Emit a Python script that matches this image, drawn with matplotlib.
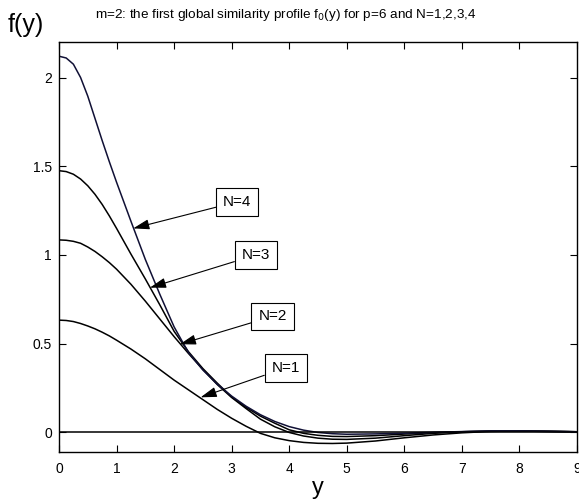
import matplotlib
matplotlib.use("Agg")
import matplotlib.pyplot as plt
from matplotlib.ticker import FormatStrFormatter

plt.rcParams['font.family'] = ['Liberation Sans', 'DejaVu Sans']

# sample positions of the similarity variable y (finer near the maxima)
y_pts = [0, 0.125, 0.25, 0.375, 0.5, 0.625, 0.75, 0.875, 1.0, 1.25, 1.5, 1.75,
         2.0, 2.25, 2.5, 2.75, 3.0, 3.25, 3.5, 3.75, 4.0, 4.25, 4.5, 4.75,
         5.0, 5.5, 6.0, 6.5, 7.0, 7.5, 8.0, 8.5, 9.0]

# profile values f_0(y) for each N
f_n1 = [0.633, 0.631, 0.625, 0.614, 0.600, 0.584, 0.565, 0.544, 0.520, 0.470,
        0.415, 0.355, 0.295, 0.240, 0.185, 0.130, 0.080, 0.035, -0.005,
        -0.030, -0.046, -0.056, -0.061, -0.062, -0.060, -0.048, -0.030,
        -0.014, -0.002, 0.006, 0.009, 0.007, 0.004]
f_n2 = [1.085, 1.083, 1.077, 1.066, 1.045, 1.020, 0.990, 0.957, 0.920, 0.835,
        0.740, 0.640, 0.540, 0.445, 0.355, 0.270, 0.197, 0.135, 0.075, 0.032,
        0.000, -0.020, -0.032, -0.038, -0.039, -0.032, -0.018, -0.005, 0.004,
        0.008, 0.008, 0.006, 0.004]
f_n3 = [1.475, 1.470, 1.455, 1.428, 1.390, 1.342, 1.285, 1.220, 1.150, 1.005,
        0.865, 0.720, 0.570, 0.455, 0.360, 0.278, 0.200, 0.142, 0.092, 0.052,
        0.015, -0.005, -0.016, -0.022, -0.023, -0.018, -0.009, -0.001, 0.004,
        0.008, 0.008, 0.006, 0.004]
f_n4 = [2.120, 2.110, 2.075, 2.000, 1.895, 1.770, 1.645, 1.525, 1.410, 1.190,
        0.975, 0.780, 0.595, 0.450, 0.352, 0.272, 0.205, 0.148, 0.100, 0.062,
        0.033, 0.013, 0.000, -0.007, -0.010, -0.008, -0.004, 0.001, 0.005,
        0.008, 0.008, 0.006, 0.004]

curves = [f_n1, f_n2, f_n3, f_n4]
curve_colors = ['k', 'k', 'k', '#101035']

# label text, arrow tip (on the curve) and box centre
labels = ['N=1', 'N=2', 'N=3', 'N=4']
tips = [(2.46, 0.198), (2.10, 0.497), (1.58, 0.816), (1.29, 1.15)]
boxes = [(3.94, 0.364), (3.71, 0.654), (3.42, 1.00), (3.10, 1.30)]

fig = plt.figure(figsize=(5.79, 4.99), dpi=100)
ax = fig.add_axes([0.1019, 0.0942, 0.8946, 0.8216])

for f, col in zip(curves, curve_colors):
    ax.plot(y_pts, f, color=col, lw=1.1)
ax.axhline(0, color='k', lw=1.1)

for text, tip, box in zip(labels, tips, boxes):
    ax.annotate(text, xy=tip, xytext=box, ha='center', va='center', fontsize=11,
                bbox=dict(boxstyle='square,pad=0.45', fc='w', ec='k', lw=0.8),
                arrowprops=dict(arrowstyle='-|>,head_length=0.7,head_width=0.22',
                                color='k', lw=0.8, shrinkA=0, shrinkB=0,
                                mutation_scale=14))

ax.set_xlim(0, 9)
ax.set_ylim(-0.11, 2.2)
ax.set_xticks(range(10))
ax.set_yticks([0, 0.5, 1, 1.5, 2])
ax.yaxis.set_major_formatter(FormatStrFormatter('%g'))
ax.tick_params(direction='in', top=True, right=True, length=5, width=0.8,
               labelsize=10)
ax.tick_params(axis='x', pad=7)
ax.tick_params(axis='y', pad=5)
for sp in ax.spines.values():
    sp.set_linewidth(1.0)

fig.text(0.493, 0.970, r'm=2: the first global similarity profile f$_0$(y) for p=6 and N=1,2,3,4',
         ha='center', va='center', fontsize=9.7)
fig.text(8 / 579, 0.950, 'f(y)', ha='left', va='center', fontsize=18)
fig.text(318 / 579, 0.022, 'y', ha='center', va='center', fontsize=17)

fig.savefig('out.png', dpi=100)
